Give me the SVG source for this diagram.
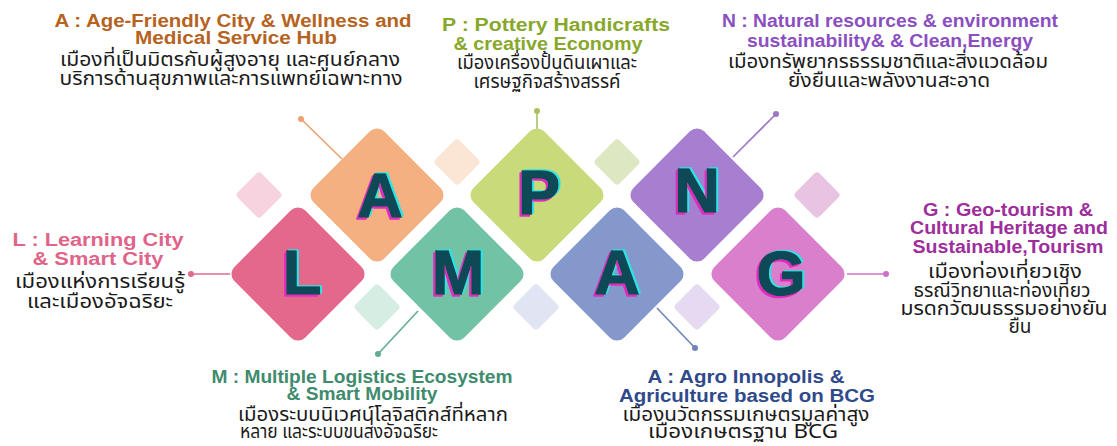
<svg xmlns="http://www.w3.org/2000/svg" width="1117" height="446" viewBox="0 0 1117 446">
<style>
.en{font-family:"Liberation Sans",Arial,sans-serif;font-weight:bold;font-size:18px;text-anchor:middle}
.th{font-family:"Noto Sans Thai","Noto Sans Thai Looped","Noto Sans","DejaVu Sans",sans-serif;font-size:19px;fill:#1a1a1a;text-anchor:middle}
.big{font-family:"Liberation Sans",Arial,sans-serif;font-weight:bold;font-size:63px;text-anchor:middle;fill:#0c4a56;stroke:#0c4a56;stroke-width:1.6;stroke-linejoin:round;filter:url(#chroma)}
.con{stroke-width:1.6;fill:none}
</style>
<defs>
<rect id="big" x="-50" y="-50" width="100" height="100" rx="10" transform="rotate(45)"/>
<rect id="sm" x="-17" y="-17" width="34" height="34" rx="4" transform="rotate(45)"/>
<filter id="chroma" x="-30%" y="-30%" width="160%" height="160%">
<feOffset in="SourceAlpha" dx="1.8" dy="-1.2" result="o1"/>
<feFlood flood-color="#2fe3e6"/>
<feComposite in2="o1" operator="in" result="cy"/>
<feOffset in="SourceAlpha" dx="-1.8" dy="1.6" result="o2"/>
<feFlood flood-color="#e12bc4"/>
<feComposite in2="o2" operator="in" result="mg"/>
<feMerge><feMergeNode in="cy"/><feMergeNode in="mg"/><feMergeNode in="SourceGraphic"/></feMerge>
</filter>
</defs>
<rect width="1117" height="446" fill="#ffffff"/>

<g id="deco">
<use href="#sm" transform="translate(259,195)" fill="#f7d3e0"/>
<use href="#sm" transform="translate(457,162)" fill="#fbe6d6"/>
<use href="#sm" transform="translate(377,307)" fill="#d6ede4"/>
<use href="#sm" transform="translate(536,307)" fill="#e0e4f3"/>
<use href="#sm" transform="translate(617,162)" fill="#dde7c2"/>
<use href="#sm" transform="translate(697,307)" fill="#e5daf2"/>
<use href="#sm" transform="translate(817,195)" fill="#e8c3e2"/>
</g>

<g id="connectors">
<line class="con" x1="230" y1="274" x2="191" y2="274" stroke="#e06a8e"/>
<circle cx="191" cy="274" r="3" fill="#e06a8e"/>
<line class="con" x1="342" y1="159" x2="301" y2="119" stroke="#eca270"/>
<circle cx="301" cy="119" r="3" fill="#eca270"/>
<line class="con" x1="537" y1="129" x2="537" y2="111" stroke="#a9c060"/>
<circle cx="537" cy="111" r="3" fill="#a9c060"/>
<line class="con" x1="418" y1="311" x2="378" y2="354" stroke="#5fae90"/>
<circle cx="378" cy="354" r="3" fill="#5fae90"/>
<line class="con" x1="733" y1="157" x2="776" y2="114" stroke="#9a78c8"/>
<circle cx="776" cy="114" r="3" fill="#9a78c8"/>
<line class="con" x1="657" y1="308" x2="695" y2="348" stroke="#6f84b8"/>
<circle cx="695" cy="348" r="3" fill="#6f84b8"/>
<line class="con" x1="847" y1="274" x2="886" y2="274" stroke="#d070c8"/>
<circle cx="886" cy="274" r="3" fill="#d070c8"/>
</g>

<g id="node-L">
<use href="#big" transform="translate(298,274)" fill="#e3688b"/>
<text class="big" x="302" y="294">L</text>
<text class="en" x="98" y="246" fill="#e0648a" textLength="171" lengthAdjust="spacingAndGlyphs">L : Learning City</text>
<text class="en" x="98" y="265" fill="#e0648a" textLength="131" lengthAdjust="spacingAndGlyphs">&amp; Smart City</text>
<text class="th" x="100" y="288" textLength="170" lengthAdjust="spacingAndGlyphs">เมืองแห่งการเรียนรู้</text>
<text class="th" x="100" y="308" textLength="146" lengthAdjust="spacingAndGlyphs">และเมืองอัจฉริยะ</text>
</g>

<g id="node-A1">
<use href="#big" transform="translate(377,195)" fill="#f4b080"/>
<text class="big" x="380" y="217">A</text>
<text class="en" x="233" y="27" fill="#b5631e" textLength="357" lengthAdjust="spacingAndGlyphs">A : Age-Friendly City &amp; Wellness and</text>
<text class="en" x="236" y="44" fill="#b5631e" textLength="202" lengthAdjust="spacingAndGlyphs">Medical Service Hub</text>
<text class="th" x="230" y="66" textLength="340" lengthAdjust="spacingAndGlyphs">เมืองที่เป็นมิตรกับผู้สูงอายุ และศูนย์กลาง</text>
<text class="th" x="231" y="85" textLength="343" lengthAdjust="spacingAndGlyphs">บริการด้านสุขภาพและการแพทย์เฉพาะทาง</text>
</g>

<g id="node-P">
<use href="#big" transform="translate(537,195)" fill="#c9da7b"/>
<text class="big" x="539" y="214">P</text>
<text class="en" x="556" y="31" fill="#87a82b" textLength="228" lengthAdjust="spacingAndGlyphs">P  : Pottery Handicrafts</text>
<text class="en" x="548" y="50" fill="#87a82b" textLength="189" lengthAdjust="spacingAndGlyphs">&amp; creative Economy</text>
<text class="th" x="547" y="69" textLength="180" lengthAdjust="spacingAndGlyphs">เมืองเครื่องปั้นดินเผาและ</text>
<text class="th" x="547" y="88" textLength="147" lengthAdjust="spacingAndGlyphs">เศรษฐกิจสร้างสรรค์</text>
</g>

<g id="node-M">
<use href="#big" transform="translate(457,274)" fill="#72c2a5"/>
<text class="big" x="458" y="294">M</text>
<text class="en" x="362" y="383" fill="#408b6d" textLength="301" lengthAdjust="spacingAndGlyphs">M : Multiple Logistics Ecosystem</text>
<text class="en" x="362" y="400" fill="#408b6d" textLength="151" lengthAdjust="spacingAndGlyphs">&amp; Smart Mobility</text>
<text class="th" x="373" y="421" textLength="270" lengthAdjust="spacingAndGlyphs">เมืองระบบนิเวศน์โลจิสติกส์ที่หลาก</text>
<text class="th" x="339" y="438" textLength="198" lengthAdjust="spacingAndGlyphs">หลาย และระบบขนส่งอัจฉริยะ</text>
</g>

<g id="node-A2">
<use href="#big" transform="translate(617,274)" fill="#8598cc"/>
<text class="big" x="617" y="294">A</text>
<text class="en" x="746" y="383" fill="#2f4a8b" textLength="197" lengthAdjust="spacingAndGlyphs">A : Agro Innopolis &amp;</text>
<text class="en" x="747" y="402" fill="#2f4a8b" textLength="256" lengthAdjust="spacingAndGlyphs">Agriculture based on BCG</text>
<text class="th" x="746" y="421" textLength="247" lengthAdjust="spacingAndGlyphs">เมืองนวัตกรรมเกษตรมูลค่าสูง</text>
<text class="th" x="743" y="438" textLength="190" lengthAdjust="spacingAndGlyphs">เมืองเกษตรฐาน BCG</text>
</g>

<g id="node-N">
<use href="#big" transform="translate(697,195)" fill="#a67fd0"/>
<text class="big" x="697" y="212">N</text>
<text class="en" x="890" y="27" fill="#8b4fc1" textLength="336" lengthAdjust="spacingAndGlyphs">N : Natural resources &amp; environment</text>
<text class="en" x="890" y="47" fill="#8b4fc1" textLength="286" lengthAdjust="spacingAndGlyphs">sustainability&amp; &amp; Clean,Energy</text>
<text class="th" x="888" y="68" textLength="320" lengthAdjust="spacingAndGlyphs">เมืองทรัพยากรธรรมชาติและสิ่งแวดล้อม</text>
<text class="th" x="889" y="87" textLength="202" lengthAdjust="spacingAndGlyphs">ยั่งยืนและพลังงานสะอาด</text>
</g>

<g id="node-G">
<use href="#big" transform="translate(778,274)" fill="#d97fcc"/>
<text class="big" x="781" y="295">G</text>
<text class="en" x="1008" y="216" fill="#9d2e9b" textLength="170" lengthAdjust="spacingAndGlyphs">G :  Geo-tourism &amp;</text>
<text class="en" x="1009" y="234" fill="#9d2e9b" textLength="198" lengthAdjust="spacingAndGlyphs">Cultural Heritage and</text>
<text class="en" x="1008" y="253" fill="#9d2e9b" textLength="191" lengthAdjust="spacingAndGlyphs">Sustainable,Tourism</text>
<text class="th" x="1005" y="278" textLength="154" lengthAdjust="spacingAndGlyphs">เมืองท่องเที่ยวเชิง</text>
<text class="th" x="1002" y="297" textLength="177" lengthAdjust="spacingAndGlyphs">ธรณีวิทยาและท่องเที่ยว</text>
<text class="th" x="1004" y="315" textLength="207" lengthAdjust="spacingAndGlyphs">มรดกวัฒนธรรมอย่างยัน</text>
<text class="th" x="1020" y="333">ยืน</text>
</g>
</svg>
